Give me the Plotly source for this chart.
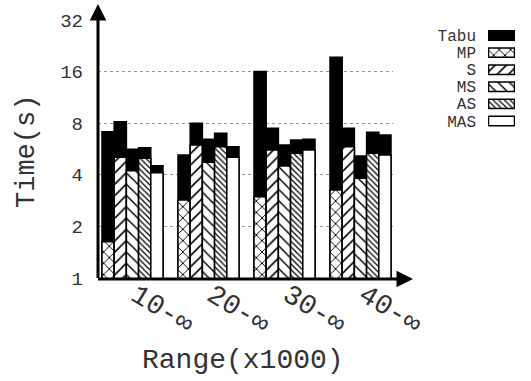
import math
import plotly.graph_objects as go

# Query ranges (x1000)
ranges = ["10-∞", "20-∞", "30-∞", "40-∞"]

# Time (s) of each method, and total time including the Tabu part
methods = ["MP", "S", "MS", "AS", "MAS"]
method_time = {
    "MP":  [1.63, 2.85, 2.98, 3.26],
    "S":   [5.06, 5.97, 5.58, 5.84],
    "MS":  [4.23, 4.73, 4.50, 3.82],
    "AS":  [4.99, 5.84, 5.34, 5.34],
    "MAS": [4.11, 5.06, 5.58, 5.22],
}
total_time = {
    "MP":  [7.14, 5.22, 16.0, 19.4],
    "S":   [8.16, 8.00, 7.47, 7.47],
    "MS":  [5.63, 6.44, 5.97, 5.15],
    "AS":  [5.76, 6.98, 6.38, 7.08],
    "MAS": [4.52, 5.84, 6.44, 6.83],
}
y_ticks = [1, 2, 4, 8, 16, 32]
legend_names = ["Tabu"] + methods

# Fill pattern per method: (shape, size, solidity)
patterns = {
    "MP":  ("x", 8, 0.22),
    "S":   ("/", 8, 0.2),
    "MS":  ("\\", 8, 0.18),
    "AS":  ("\\", 4, 0.3),
    "MAS": ("", 8, 0.2),
}

W, H = 531, 381
FONT = "Liberation Mono"
px = lambda x: x / W
py = lambda y: (H - y) / H


def bar_marker(name):
    if name == "Tabu":
        return dict(color="black", line=dict(color="black", width=1.5))
    shape, size, sol = patterns[name]
    return dict(color="white", line=dict(color="black", width=1.5),
                pattern=dict(shape=shape, size=size, solidity=sol,
                             fgcolor="black", bgcolor="white", fillmode="replace"))


fig = go.Figure()

for i, m in enumerate(methods):
    # black Tabu part: full bar up to the total time
    fig.add_trace(go.Bar(
        x=ranges, y=total_time[m], name="Tabu", offsetgroup=str(i + 1),
        marker=bar_marker("Tabu"), showlegend=False, xaxis="x", yaxis="y",
    ))
    # method part, drawn over the lower section of the same bar
    fig.add_trace(go.Bar(
        x=ranges, y=method_time[m], name=m, offsetgroup=str(i + 1),
        marker=bar_marker(m), showlegend=False, xaxis="x", yaxis="y",
    ))

# Key drawn as a small horizontal-bar panel, one swatch per series
for name in legend_names:
    fig.add_trace(go.Bar(
        y=[name], x=[1], orientation="h", width=0.55, offsetgroup="key",
        marker=bar_marker(name), showlegend=False,
        xaxis="x2", yaxis="y2", hoverinfo="skip",
    ))

x0 = 98
x1 = 393
y_bot = 278
y_top = 20
pitch = 76.0
c0 = 132.5

fig.update_layout(
    template="none",
    width=W, height=H,
    margin=dict(l=0, r=0, t=0, b=0, pad=0),
    paper_bgcolor="white", plot_bgcolor="white",
    barmode="group", bargap=0.197, bargroupgap=0,
    showlegend=False,
    font=dict(family=FONT, color="black", size=19),
    xaxis=dict(
        domain=[px(x0), px(x1)], automargin=False,
        range=[-(c0 - x0) / pitch, (x1 - c0) / pitch],
        showgrid=False, zeroline=False, showline=False,
        tickangle=31, ticks="", ticklabelstandoff=-6, ticklabelshift=4,
        tickfont=dict(family=FONT, size=28, color="#333"),
        anchor="y",
    ),
    yaxis=dict(
        domain=[py(y_bot), py(y_top)], automargin=False,
        type="log", range=[0, math.log10(32)],
        tickvals=y_ticks, ticktext=[str(v) for v in y_ticks],
        showgrid=True, gridcolor="#9a9a9a", griddash="dot", gridwidth=1,
        zeroline=False, showline=False, ticks="",
        ticklabelstandoff=14, tickfont=dict(family=FONT, size=19, color="#333"),
        anchor="x",
    ),
    xaxis2=dict(
        domain=[px(488), px(515)], range=[-0.02, 1.02], automargin=False,
        showgrid=False, zeroline=False, showline=False, showticklabels=False,
        anchor="y2",
    ),
    yaxis2=dict(
        domain=[py(129.5), py(27)], automargin=False,
        categoryorder="array", categoryarray=legend_names[::-1],
        tickmode="array", tickvals=legend_names, ticktext=legend_names,
        showgrid=False, zeroline=False, showline=False, ticks="",
        ticklabelstandoff=11, tickfont=dict(family=FONT, size=16, color="#333"),
        anchor="x2",
    ),
)

# Axis lines with arrow heads
fig.add_annotation(x=px(x0), y=py(4), xref="paper", yref="paper",
                   ax=0, ay=(y_bot + 1.5) - 4, axref="pixel", ayref="pixel",
                   text="", showarrow=True, arrowhead=2, arrowsize=1.1,
                   arrowwidth=3, arrowcolor="black")
fig.add_annotation(x=px(413), y=py(y_bot + 1), xref="paper", yref="paper",
                   ax=-(413 - (x0 - 1.5)), ay=0, axref="pixel", ayref="pixel",
                   text="", showarrow=True, arrowhead=2, arrowsize=1.1,
                   arrowwidth=3, arrowcolor="black")

# Axis titles
fig.add_annotation(x=px(27), y=py(152), xref="paper", yref="paper",
                   xanchor="center", yanchor="middle",
                   text="Time(s)", showarrow=False, textangle=-90,
                   font=dict(family=FONT, size=27, color="#333"))
fig.add_annotation(x=px(243), y=py(360), xref="paper", yref="paper",
                   xanchor="center", yanchor="middle",
                   text="Range(x1000)", showarrow=False,
                   font=dict(family=FONT, size=28, color="#333"))

fig.write_html("out.html")
